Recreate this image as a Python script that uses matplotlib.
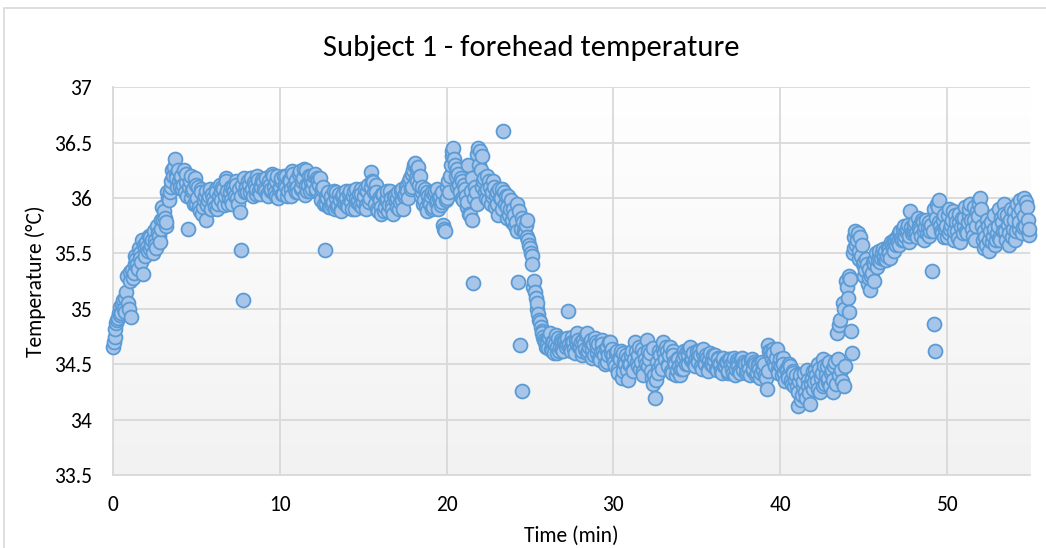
import numpy as np
import matplotlib
matplotlib.use('Agg')
import matplotlib.pyplot as plt
from matplotlib.patches import Rectangle
from matplotlib.colors import LinearSegmentedColormap

plt.rcParams['font.family'] = ['Carlito', 'Liberation Sans Narrow', 'DejaVu Sans']

# sampling grid: readings every 0.05 min, stored as two interleaved passes
time_a = np.round(np.arange(0, 55, 0.1), 2)
time_b = np.round(time_a + 0.05, 2)

# forehead temperature (degC), pass A, one row per minute
temp_a = [
    34.66, 34.75, 34.87, 34.92, 35.02, 34.96, 35.08, 34.97, 35.15, 35.05,
    35.33, 34.93, 35.28, 35.40, 35.45, 35.36, 35.50, 35.42, 35.31, 35.55,
    35.60, 35.52, 35.65, 35.58, 35.50, 35.62, 35.55, 35.68, 35.60, 35.72,
    35.80, 35.82, 35.78, 36.00, 36.05, 36.15, 36.20, 36.35, 36.18, 36.25,
    36.10, 36.20, 36.12, 36.05, 36.22, 35.72, 36.15, 36.00, 36.08, 36.18,
    35.95, 36.10, 35.88, 36.05, 35.92, 36.02, 35.80, 35.98, 36.08, 35.90,
    36.00, 35.92, 36.05, 35.95, 36.12, 35.98, 36.08, 36.02, 36.15, 35.95,
    36.05, 35.98, 36.10, 36.02, 36.12, 35.95, 35.87, 35.53, 35.08, 36.05,
    36.10, 36.15, 36.05, 36.18, 36.02, 36.12, 36.08, 36.16, 36.04, 36.10,
    36.14, 36.06, 36.18, 36.02, 36.12, 36.08, 36.20, 36.05, 36.15, 36.00,
    36.10, 36.18, 36.04, 36.12, 36.20, 36.06, 36.15, 36.02, 36.22, 36.08,
    36.16, 36.05, 36.24, 36.10, 36.18, 36.03, 36.25, 36.12, 36.06, 36.20,
    36.14, 36.22, 36.08, 36.16, 36.18, 35.98, 36.10, 35.53, 35.95, 36.05,
    35.92, 36.02, 35.96, 35.90, 36.05, 35.94, 35.98, 35.88, 36.04, 35.95,
    36.00, 35.92, 36.06, 35.96, 36.02, 35.90, 36.08, 35.98, 35.94, 36.04,
    35.96, 36.08, 35.90, 36.12, 36.00, 36.23, 36.14, 35.95, 36.05, 35.88,
    35.98, 35.86, 36.04, 35.92, 36.00, 35.88, 36.06, 35.94, 35.86, 36.02,
    35.92, 36.05, 35.96, 36.08, 35.90, 36.04, 36.12, 36.00, 36.18, 36.10,
    36.25, 36.32, 36.15, 36.28, 36.20, 36.05, 35.95, 36.08, 35.88, 36.02,
    35.95, 36.05, 35.92, 36.06, 35.98, 35.90, 36.02, 35.96, 35.76, 35.70,
    36.00, 36.15, 36.20, 36.38, 36.45, 36.30, 36.10, 36.22, 36.05, 36.15,
    35.98, 36.08, 35.92, 36.30, 35.85, 35.80, 35.23, 36.10, 35.95, 36.45,
    36.42, 36.38, 36.15, 36.05, 36.20, 35.98, 36.10, 36.02, 36.15, 35.92,
    36.05, 35.85, 36.00, 36.08, 36.60, 35.95, 35.82, 36.02, 35.90, 35.78,
    35.90, 35.75, 35.95, 35.24, 34.67, 34.26, 35.78, 35.68, 35.80, 35.62,
    35.55, 35.48, 35.20, 35.15, 35.00, 34.95, 34.88, 34.80, 34.75, 34.70,
    34.72, 34.65, 34.78, 34.62, 34.70, 34.68, 34.60, 34.74, 34.66, 34.70,
    34.62, 34.72, 34.68, 34.98, 34.64, 34.75, 34.70, 34.60, 34.68, 34.72,
    34.66, 34.58, 34.72, 34.64, 34.78, 34.62, 34.70, 34.56, 34.68, 34.74,
    34.60, 34.68, 34.54, 34.72, 34.62, 34.50, 34.66, 34.58, 34.70, 34.64,
    34.58, 34.48, 34.62, 34.42, 34.55, 34.38, 34.60, 34.50, 34.45, 34.56,
    34.50, 34.62, 34.44, 34.70, 34.52, 34.58, 34.46, 34.64, 34.40, 34.55,
    34.72, 34.48, 34.60, 34.38, 34.32, 34.20, 34.52, 34.42, 34.58, 34.46,
    34.70, 34.55, 34.62, 34.48, 34.66, 34.42, 34.58, 34.50, 34.45, 34.55,
    34.40, 34.52, 34.46, 34.58, 34.62, 34.50, 34.66, 34.55, 34.60, 34.48,
    34.62, 34.52, 34.58, 34.46, 34.64, 34.50, 34.56, 34.44, 34.60, 34.52,
    34.48, 34.58, 34.45, 34.55, 34.50, 34.42, 34.56, 34.48, 34.52, 34.44,
    34.55, 34.46, 34.52, 34.40, 34.54, 34.48, 34.42, 34.56, 34.45, 34.50,
    34.44, 34.52, 34.40, 34.55, 34.46, 34.50, 34.42, 34.48, 34.38, 34.52,
    34.45, 34.40, 34.28, 34.67, 34.62, 34.55, 34.60, 34.48, 34.64, 34.42,
    34.55, 34.40, 34.50, 34.35, 34.45, 34.38, 34.48, 34.32, 34.42, 34.36,
    34.30, 34.12, 34.40, 34.22, 34.35, 34.25, 34.45, 34.30, 34.14, 34.38,
    34.28, 34.45, 34.35, 34.50, 34.25, 34.42, 34.55, 34.32, 34.48, 34.38,
    34.30, 34.45, 34.25, 34.52, 34.78, 34.40, 34.90, 34.35, 35.00, 34.48,
    35.20, 34.97, 35.27, 34.60, 35.55, 35.70, 35.62, 35.45, 35.65, 35.58,
    35.42, 35.35, 35.40, 35.28, 35.17, 35.32, 35.25, 35.45, 35.38, 35.48,
    35.42, 35.50, 35.45, 35.52, 35.48, 35.55, 35.46, 35.58, 35.52, 35.60,
    35.65, 35.58, 35.70, 35.62, 35.75, 35.66, 35.72, 35.60, 35.88, 35.68,
    35.72, 35.78, 35.65, 35.75, 35.70, 35.80, 35.62, 35.74, 35.68, 35.78,
    35.70, 35.34, 34.86, 34.62, 35.95, 35.98, 35.75, 35.68, 35.85, 35.72,
    35.65, 35.90, 35.72, 35.80, 35.62, 35.85, 35.70, 35.78, 35.60, 35.82,
    35.75, 35.92, 35.68, 35.85, 35.95, 35.72, 35.80, 35.62, 35.88, 35.98,
    36.00, 35.75, 35.55, 35.65, 35.80, 35.52, 35.70, 35.60, 35.85, 35.58,
    35.68, 35.90, 35.62, 35.78, 35.95, 35.70, 35.85, 35.58, 35.80, 35.65,
    35.88, 35.62, 35.95, 35.72, 35.98, 35.68, 36.00, 35.75, 35.92, 35.67,
]

# pass B, offset by half a step
temp_b = [
    34.70, 34.82, 34.90, 34.96, 34.94, 35.04, 35.00, 35.10, 35.30, 35.00,
    35.25, 35.35, 35.32, 35.48, 35.40, 35.55, 35.46, 35.62, 35.58, 35.48,
    35.56, 35.66, 35.54, 35.62, 35.70, 35.58, 35.75, 35.66, 35.80, 35.92,
    35.88, 35.75, 36.05, 35.98, 36.10, 36.25, 36.28, 36.22, 36.10, 36.15,
    36.18, 36.08, 36.25, 36.14, 36.02, 36.10, 36.20, 36.06, 35.95, 36.12,
    36.00, 35.92, 36.08, 35.86, 35.98, 36.06, 35.94, 36.02, 35.90, 36.04,
    35.96, 36.08, 35.90, 36.02, 36.05, 36.10, 35.94, 36.18, 36.06, 36.00,
    36.10, 35.95, 36.06, 36.15, 36.00, 36.08, 36.02, 36.12, 36.18, 36.10,
    36.05, 36.12, 36.18, 36.08, 36.14, 36.04, 36.20, 36.06, 36.12, 36.16,
    36.08, 36.18, 36.04, 36.15, 36.06, 36.22, 36.10, 36.02, 36.20, 36.08,
    36.15, 36.04, 36.20, 36.10, 36.02, 36.16, 36.08, 36.24, 36.12, 36.05,
    36.10, 36.22, 36.08, 36.15, 36.26, 36.12, 36.06, 36.20, 36.14, 36.08,
    36.20, 36.06, 36.18, 36.12, 36.02, 36.08, 35.95, 36.02, 36.00, 35.92,
    36.00, 35.94, 36.06, 36.00, 35.92, 36.04, 35.90, 36.02, 35.96, 36.06,
    35.94, 36.04, 35.98, 35.90, 36.06, 36.00, 35.96, 36.04, 36.08, 35.92,
    36.02, 35.94, 36.06, 35.96, 36.10, 36.15, 36.05, 36.12, 35.90, 36.00,
    35.92, 36.04, 35.88, 35.98, 36.06, 35.94, 36.00, 35.90, 36.02, 35.96,
    36.00, 35.90, 36.06, 35.98, 36.02, 36.10, 36.06, 36.15, 36.08, 36.22,
    36.30, 36.18, 36.26, 36.12, 36.02, 36.10, 35.98, 35.92, 36.05, 35.96,
    36.02, 35.90, 36.04, 35.96, 36.08, 36.00, 35.94, 36.05, 35.72, 35.98,
    36.10, 36.05, 36.30, 36.42, 36.35, 36.20, 36.26, 36.12, 36.18, 36.00,
    36.12, 36.02, 35.96, 35.86, 36.06, 36.18, 36.00, 36.05, 36.40, 36.30,
    36.25, 36.10, 36.18, 36.00, 36.08, 36.15, 35.95, 36.05, 36.10, 36.02,
    35.95, 36.08, 36.00, 35.90, 36.05, 36.02, 35.92, 35.85, 35.98, 35.80,
    35.85, 35.78, 35.70, 35.88, 35.72, 35.82, 35.70, 35.76, 35.65, 35.58,
    35.50, 35.40, 35.25, 35.10, 35.05, 34.90, 34.84, 34.78, 34.72, 34.66,
    34.68, 34.74, 34.64, 34.70, 34.60, 34.76, 34.66, 34.62, 34.72, 34.64,
    34.70, 34.66, 34.74, 34.68, 34.62, 34.70, 34.64, 34.72, 34.78, 34.66,
    34.70, 34.62, 34.68, 34.76, 34.60, 34.66, 34.72, 34.64, 34.58, 34.70,
    34.66, 34.56, 34.62, 34.68, 34.58, 34.64, 34.52, 34.70, 34.60, 34.56,
    34.52, 34.60, 34.46, 34.56, 34.62, 34.44, 34.52, 34.58, 34.36, 34.50,
    34.58, 34.46, 34.55, 34.62, 34.48, 34.66, 34.52, 34.44, 34.60, 34.50,
    34.62, 34.55, 34.44, 34.65, 34.40, 34.36, 34.46, 34.62, 34.50, 34.64,
    34.60, 34.66, 34.50, 34.58, 34.44, 34.62, 34.52, 34.40, 34.56, 34.48,
    34.46, 34.56, 34.62, 34.50, 34.58, 34.64, 34.54, 34.60, 34.50, 34.56,
    34.56, 34.62, 34.48, 34.60, 34.52, 34.58, 34.46, 34.54, 34.50, 34.58,
    34.54, 34.46, 34.56, 34.50, 34.44, 34.54, 34.48, 34.52, 34.42, 34.55,
    34.50, 34.42, 34.56, 34.46, 34.52, 34.44, 34.54, 34.48, 34.52, 34.42,
    34.50, 34.46, 34.54, 34.44, 34.52, 34.40, 34.50, 34.46, 34.42, 34.48,
    34.50, 34.38, 34.44, 34.62, 34.58, 34.64, 34.52, 34.56, 34.46, 34.50,
    34.48, 34.56, 34.42, 34.46, 34.40, 34.50, 34.36, 34.44, 34.30, 34.40,
    34.25, 34.35, 34.18, 34.30, 34.42, 34.20, 34.36, 34.24, 34.32, 34.44,
    34.34, 34.40, 34.28, 34.46, 34.38, 34.30, 34.48, 34.40, 34.34, 34.52,
    34.42, 34.36, 34.48, 34.32, 34.55, 34.85, 34.45, 35.05, 34.30, 35.25,
    35.10, 35.30, 34.80, 35.50, 35.65, 35.58, 35.68, 35.52, 35.48, 35.40,
    35.30, 35.45, 35.22, 35.36, 35.30, 35.42, 35.40, 35.50, 35.44, 35.52,
    35.46, 35.54, 35.48, 35.44, 35.56, 35.50, 35.60, 35.55, 35.62, 35.58,
    35.60, 35.68, 35.64, 35.72, 35.62, 35.70, 35.76, 35.66, 35.74, 35.70,
    35.76, 35.68, 35.82, 35.72, 35.66, 35.78, 35.70, 35.80, 35.74, 35.66,
    35.76, 35.70, 35.90, 35.82, 35.92, 35.78, 35.70, 35.80, 35.65, 35.75,
    35.85, 35.68, 35.76, 35.88, 35.70, 35.78, 35.64, 35.86, 35.74, 35.68,
    35.82, 35.70, 35.78, 35.90, 35.80, 35.66, 35.92, 35.75, 35.84, 35.95,
    35.90, 35.62, 35.70, 35.58, 35.75, 35.62, 35.78, 35.66, 35.72, 35.62,
    35.75, 35.64, 35.82, 35.70, 35.86, 35.62, 35.76, 35.68, 35.90, 35.72,
    35.80, 35.70, 35.86, 35.78, 35.90, 35.74, 35.84, 35.96, 35.80, 35.72,
]

x_ticks = [0, 10, 20, 30, 40, 50]
y_ticks = [33.5, 34, 34.5, 35, 35.5, 36, 36.5, 37]
y_tick_labels = ['33.5', '34', '34.5', '35', '35.5', '36', '36.5', '37']

# merge both passes into one time-ordered series
time_min = np.concatenate([time_a, time_b])
temp = np.concatenate([temp_a, temp_b])
order = np.argsort(time_min, kind='stable')
time_min, temp = time_min[order], temp[order]

fig = plt.figure(figsize=(10.46, 5.48), dpi=100)
fig.patches.append(Rectangle((0.004, -0.01), 1.2, 0.996, transform=fig.transFigure,
                             fill=False, edgecolor='#d9d9d9', linewidth=1.2))
ax = fig.add_axes([0.108, 0.133, 0.877, 0.708])

# light grey fade in the plot area like the excel chart
grad = np.linspace(1.0, 0.0, 256).reshape(-1, 1)
ax.imshow(grad, extent=[0, 1, 0, 1], transform=ax.transAxes, aspect='auto',
          cmap=LinearSegmentedColormap.from_list('g', ['#f2f2f2', '#ffffff']),
          zorder=0)

ax.scatter(time_min, temp, s=100, facecolor='#a6c5e9', edgecolor='#5b9bd5',
           linewidth=1.3, zorder=3, clip_on=False)

ax.set_xlim(0, 55)
ax.set_ylim(33.5, 37)
ax.set_xticks(x_ticks)
ax.set_yticks(y_ticks)
ax.set_yticklabels(y_tick_labels)
ax.grid(True, color='#d9d9d9', linewidth=1.3)
ax.set_axisbelow(True)
for s in ['top', 'right']:
    ax.spines[s].set_visible(False)
for s in ['left', 'bottom']:
    ax.spines[s].set_color('#d9d9d9')
    ax.spines[s].set_linewidth(1.3)
ax.tick_params(axis='y', length=0, labelsize=15.5, pad=15)
ax.tick_params(axis='x', length=0, labelsize=15.5, pad=14)

fig.text(0.508, 0.912, 'Subject 1 - forehead temperature', fontsize=22,
         ha='center', va='center')
ax.set_xlabel('Time (min)', fontsize=15.5, labelpad=8)
ax.set_ylabel('Temperature (°C)', fontsize=15.5, labelpad=6)

fig.savefig('out.png', dpi=100)
